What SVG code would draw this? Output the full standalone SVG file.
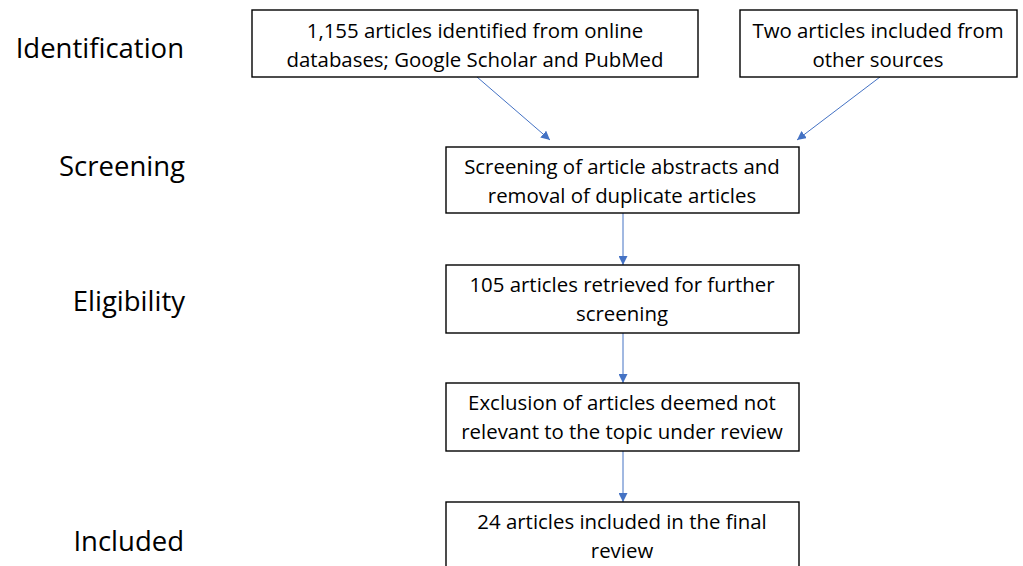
<svg xmlns="http://www.w3.org/2000/svg" width="1023" height="566" viewBox="0 0 1023 566">
<style>
.box{fill:#fff;stroke:#000;stroke-width:1.4}
.t{font-family:"Open Sans","Liberation Sans",sans-serif;font-size:20.4px;fill:#000;text-anchor:middle}
.lbl{font-family:"Open Sans","Liberation Sans",sans-serif;font-size:27.5px;fill:#000;text-anchor:end}
.c{stroke:#4472C4;stroke-width:1;fill:none;marker-end:url(#ah)}
</style>
<defs>
<marker id="ah" viewBox="0 0 10 10" refX="10" refY="5" markerWidth="9" markerHeight="9" markerUnits="userSpaceOnUse" orient="auto">
<path d="M0,0 L10,5 L0,10 z" fill="#4472C4"/>
</marker>
</defs>
<rect width="1023" height="566" fill="#fff"/>
<g id="labels">
<text class="lbl" x="184" y="58">Identification</text>
<text class="lbl" x="185" y="176">Screening</text>
<text class="lbl" x="185" y="311">Eligibility</text>
<text class="lbl" x="184" y="551">Included</text>
</g>
<g id="connectors">
<line class="c" x1="477" y1="77" x2="550" y2="140"/>
<line class="c" x1="880" y1="77" x2="797" y2="140"/>
<line class="c" x1="623" y1="213" x2="623" y2="265"/>
<line class="c" x1="623" y1="333" x2="623" y2="383"/>
<line class="c" x1="623" y1="451" x2="623" y2="502"/>
</g>
<g id="n1">
<rect class="box" x="252" y="10" width="446" height="67"/>
<text class="t" x="475" y="38">1,155 articles identified from online</text>
<text class="t" x="475" y="67">databases; Google Scholar and PubMed</text>
</g>
<g id="n2">
<rect class="box" x="740" y="10" width="277" height="67"/>
<text class="t" x="878" y="38">Two articles included from</text>
<text class="t" x="878" y="67">other sources</text>
</g>
<g id="n3">
<rect class="box" x="446" y="147" width="353" height="66"/>
<text class="t" x="622" y="174">Screening of article abstracts and</text>
<text class="t" x="622" y="203">removal of duplicate articles</text>
</g>
<g id="n4">
<rect class="box" x="446" y="265" width="353" height="68"/>
<text class="t" x="622" y="292">105 articles retrieved for further</text>
<text class="t" x="622" y="321">screening</text>
</g>
<g id="n5">
<rect class="box" x="446" y="383" width="353" height="68"/>
<text class="t" x="622" y="410">Exclusion of articles deemed not</text>
<text class="t" x="622" y="439">relevant to the topic under review</text>
</g>
<g id="n6">
<rect class="box" x="446" y="502" width="353" height="80"/>
<text class="t" x="622" y="529">24 articles included in the final</text>
<text class="t" x="622" y="558">review</text>
</g>
</svg>
